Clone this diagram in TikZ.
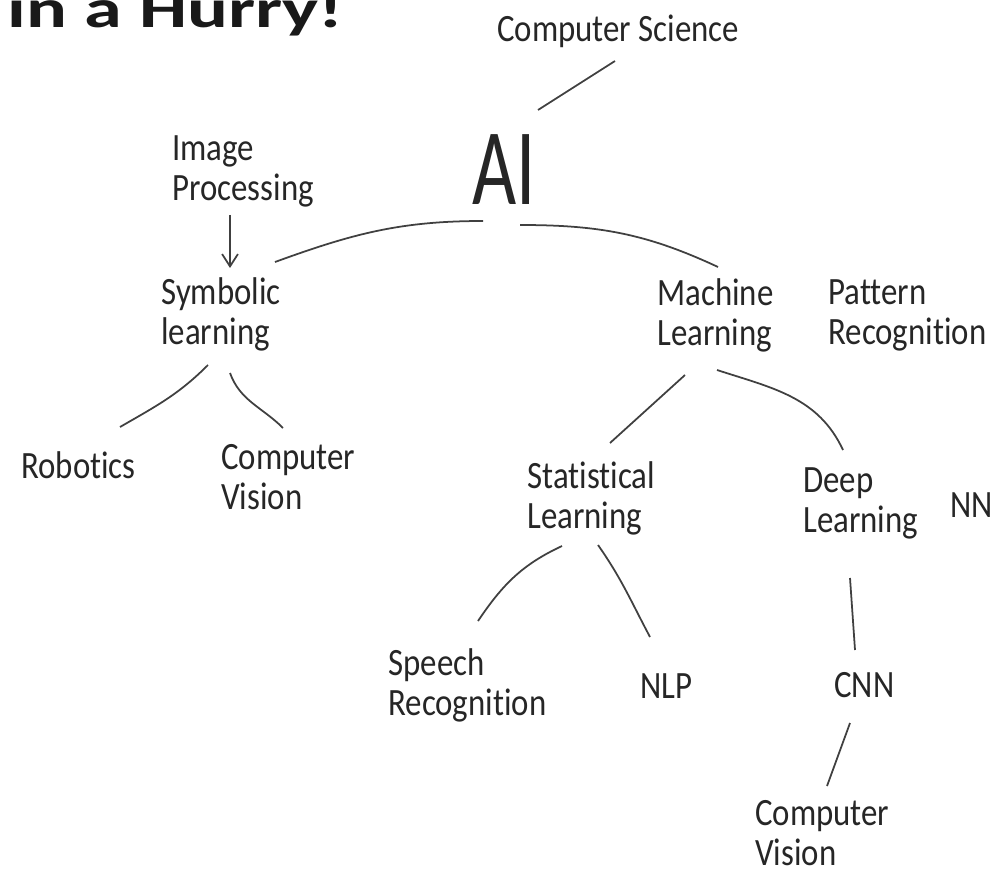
\documentclass[tikz,border=0pt]{standalone}
\usepackage{fontspec}
\setmainfont{Carlito}[FakeStretch=0.85, Ligatures=NoCommon]
\newfontfamily\bigfont{Carlito}[FakeStretch=0.7]
\newfontfamily\titlefont{Carlito}[FakeStretch=1.4]
\usetikzlibrary{arrows.meta}

\begin{document}
\begin{tikzpicture}[x=0.02cm, y=0.02cm,
    term/.style={inner sep=0pt, align=left, text=black!85,
        font=\fontsize{22}{22.7}\selectfont},
    link/.style={line width=1pt, black!75}]
    \path[use as bounding box, clip] (0,0) rectangle (996,-878);
    \fill[white] (0,0) rectangle (996,-878);

    % Titel, oben abgeschnitten
    \node[anchor=base west, inner sep=0pt, text=black!90,
        font=\titlefont\bfseries\fontsize{31}{31}\selectfont] (title) at (7,-28) {in a Hurry!};

    % Oberste Ebene
    \node[term, anchor=base west] (cs) at (497,-42) {Computer Science};
    \node[inner sep=0pt, anchor=base, text=black!85,
        font=\bigfont\fontsize{62}{62}\selectfont] (ai) at (504,-205) {AI};

    % Zweite Ebene
    \node[term, anchor=north west] (img)  at (172,-135) {Image\\Processing};
    \node[term, anchor=north west] (sym)  at (161,-277) {Symbolic\\learning};
    \node[term, anchor=north west] (ml)   at (657,-278) {Machine\\Learning};
    \node[term, anchor=north west] (pr)   at (828,-279) {Pattern\\Recognition};

    % Dritte Ebene
    \node[term, anchor=base west]  (rob)  at (21,-478)  {Robotics};
    \node[term, anchor=north west] (cv1)  at (221,-444) {Computer\\Vision};
    \node[term, anchor=north west] (stat) at (527,-461) {Statistical\\Learning};
    \node[term, anchor=north west] (deep) at (803,-467) {Deep\\Learning};
    \node[term, anchor=base west]  (nn)   at (950,-517) {NN};

    % Vierte Ebene
    \node[term, anchor=north west] (sr)   at (388,-648) {Speech\\Recognition};
    \node[term, anchor=base west]  (nlp)  at (640,-698) {NLP};
    \node[term, anchor=base west]  (cnn)  at (834,-697) {CNN};
    \node[term, anchor=north west] (cv2)  at (755,-800) {Computer\\Vision};

    % Verbindungen
    \draw[link] ([shift={(118,-19)}]cs.base west) -- ([shift={(34,95)}]ai.base);
    \draw[link] ([shift={(-21,-16)}]ai.base) to[out=180, in=20] ([shift={(114,15)}]sym.north west);
    \draw[link] ([shift={(16,-20)}]ai.base) to[out=0, in=155] ([shift={(61,11)}]ml.north west);
    \draw[link, -{Straight Barb[length=7pt, width=9pt]}]
        ([shift={(58,-80)}]img.north west) -- ([shift={(69,9)}]sym.north west);

    \draw[link] ([shift={(47,-88)}]sym.north west) to[out=225, in=30] ([shift={(99,51)}]rob.base west);
    \draw[link] ([shift={(69,-96)}]sym.north west) to[out=-70, in=135] ([shift={(62,16)}]cv1.north west);

    \draw[link] ([shift={(28,-97)}]ml.north west) -- ([shift={(83,18)}]stat.north west);
    \draw[link] ([shift={(60,-92)}]ml.north west) to[out=-18, in=115] ([shift={(40,17)}]deep.north west);

    \draw[link] ([shift={(35,-85)}]stat.north west) to[out=205, in=56] ([shift={(90,27)}]sr.north west);
    \draw[link] ([shift={(71,-84)}]stat.north west) to[out=-55, in=118] ([shift={(10,61)}]nlp.base west);

    \draw[link] ([shift={(47,-111)}]deep.north west) -- ([shift={(21,47)}]cnn.base west);
    \draw[link] ([shift={(16,-26)}]cnn.base west) -- ([shift={(72,14)}]cv2.north west);
\end{tikzpicture}
\end{document}
